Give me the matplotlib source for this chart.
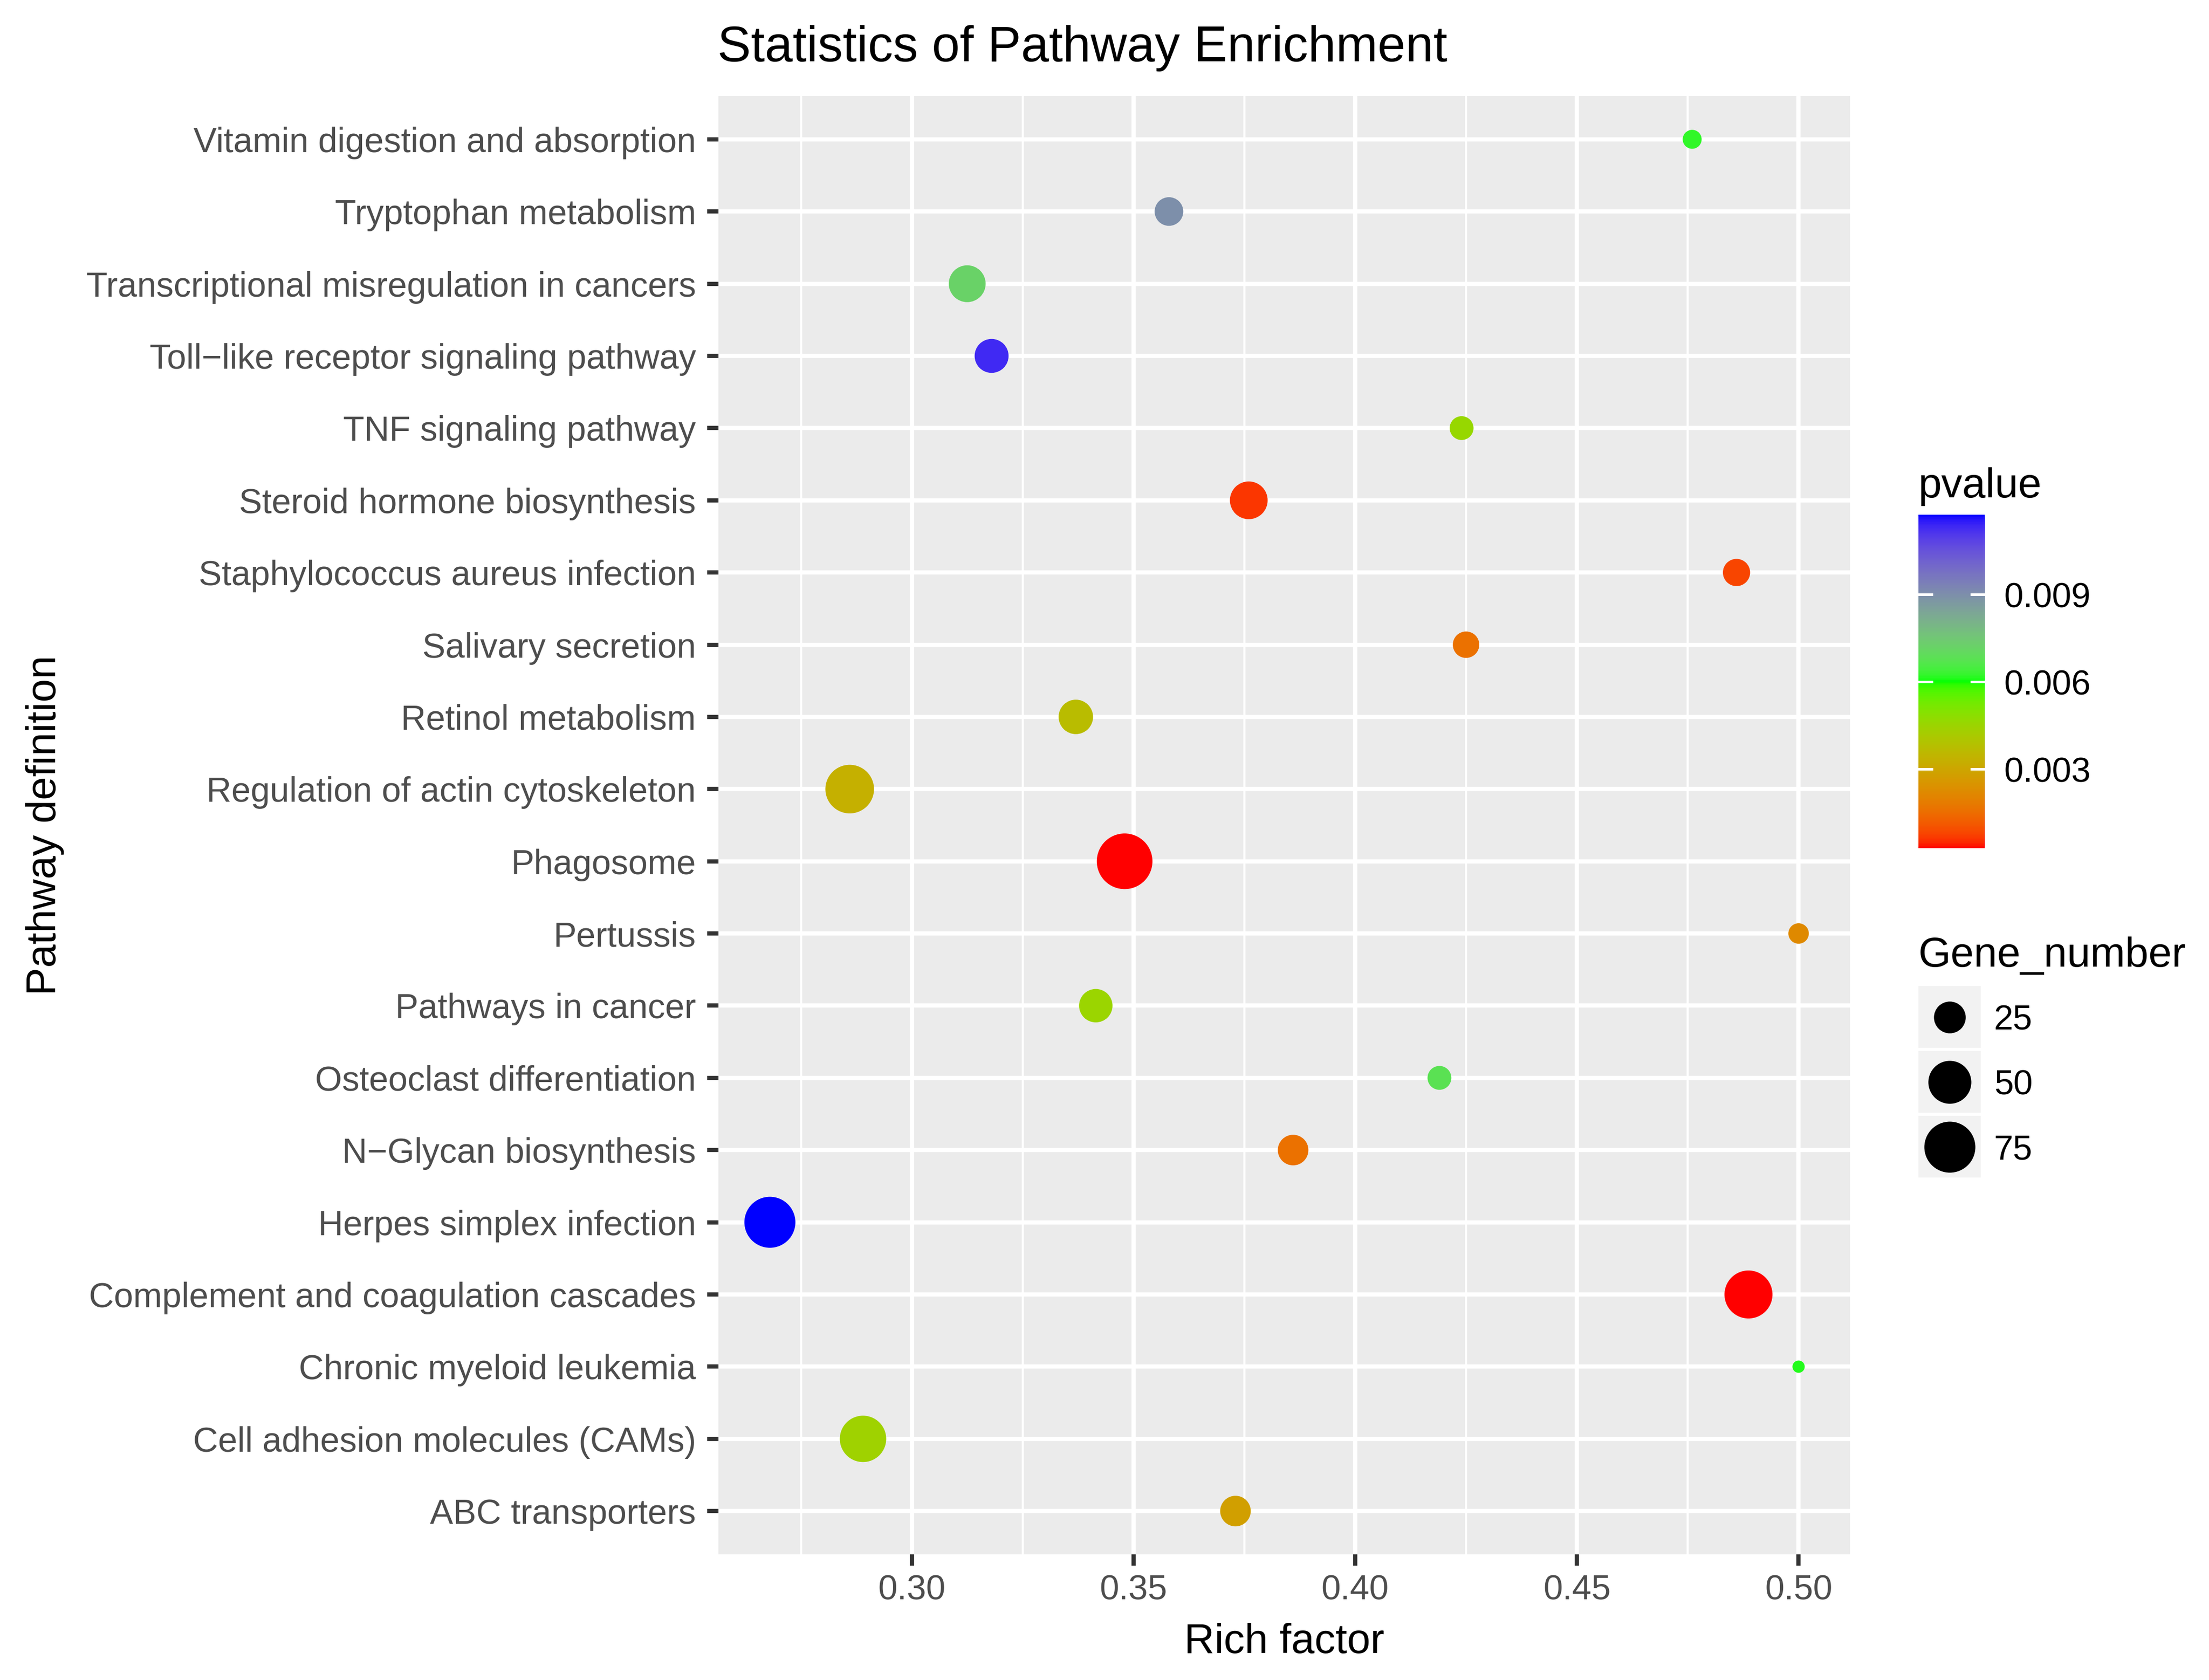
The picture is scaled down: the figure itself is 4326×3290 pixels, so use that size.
import numpy as np
import matplotlib
matplotlib.use("Agg")
import matplotlib.pyplot as plt
from matplotlib.colors import ListedColormap, Normalize
from matplotlib.cm import ScalarMappable
from matplotlib.patches import Rectangle

plt.rcParams['font.family'] = ['Liberation Sans', 'DejaVu Sans']

W, H, DPI = 4326, 3290, 300

# pathways listed top to bottom as in the picture
pathways = [
    "Vitamin digestion and absorption",
    "Tryptophan metabolism",
    "Transcriptional misregulation in cancers",
    "Toll\u2212like receptor signaling pathway",
    "TNF signaling pathway",
    "Steroid hormone biosynthesis",
    "Staphylococcus aureus infection",
    "Salivary secretion",
    "Retinol metabolism",
    "Regulation of actin cytoskeleton",
    "Phagosome",
    "Pertussis",
    "Pathways in cancer",
    "Osteoclast differentiation",
    "N\u2212Glycan biosynthesis",
    "Herpes simplex infection",
    "Complement and coagulation cascades",
    "Chronic myeloid leukemia",
    "Cell adhesion molecules (CAMs)",
    "ABC transporters",
]
rich_factor = [0.476, 0.358, 0.3125, 0.318, 0.424, 0.376, 0.486, 0.425, 0.337, 0.286,
               0.348, 0.500, 0.3415, 0.419, 0.386, 0.268, 0.4887, 0.500, 0.289, 0.373]
gene_number = [10, 20, 35, 29, 14, 37, 18, 17, 30, 67,
               92, 11, 28, 14, 23, 75, 65, 8, 60, 23]
pvalue = [0.0062, 0.0090, 0.0072, 0.0113, 0.0046, 0.0006, 0.0008, 0.0016, 0.0037, 0.0033,
          0.00028, 0.0022, 0.0045, 0.0068, 0.0016, 0.01174, 0.0003, 0.0061, 0.0044, 0.0028]

x_ticks = [0.30, 0.35, 0.40, 0.45, 0.50]
pv_ticks = [0.003, 0.006, 0.009]
size_breaks = [25, 50, 75]


# ---- colour scale: red -> green -> blue, interpolated in CIELAB like ggplot ----
def srgb_to_lab(rgb):
    rgb = np.asarray(rgb, float)
    lin = np.where(rgb <= 0.04045, rgb / 12.92, ((rgb + 0.055) / 1.055) ** 2.4)
    m = np.array([[0.4124, 0.3576, 0.1805],
                  [0.2126, 0.7152, 0.0722],
                  [0.0193, 0.1192, 0.9505]])
    xyz = m @ lin / np.array([0.95047, 1.0, 1.08883])
    f = np.where(xyz > 0.008856, np.cbrt(xyz), 7.787 * xyz + 16 / 116)
    return np.array([116 * f[1] - 16, 500 * (f[0] - f[1]), 200 * (f[1] - f[2])])


def lab_to_srgb(lab):
    L, a, b = lab
    fy = (L + 16) / 116
    fx = fy + a / 500
    fz = fy - b / 200
    f = np.array([fx, fy, fz])
    xyz = np.where(f ** 3 > 0.008856, f ** 3, (f - 16 / 116) / 7.787)
    xyz = xyz * np.array([0.95047, 1.0, 1.08883])
    m = np.array([[3.2406, -1.5372, -0.4986],
                  [-0.9689, 1.8758, 0.0415],
                  [0.0557, -0.2040, 1.0570]])
    lin = np.clip(m @ xyz, 0, 1)
    rgb = np.where(lin <= 0.0031308, 12.92 * lin, 1.055 * lin ** (1 / 2.4) - 0.055)
    return np.clip(rgb, 0, 1)


stops = [srgb_to_lab(c) for c in ([1, 0, 0], [0, 1, 0], [0, 0, 1])]
cols = []
for t in np.linspace(0, 1, 256):
    seg = min(int(t * 2), 1)
    u = t * 2 - seg
    cols.append(lab_to_srgb(stops[seg] * (1 - u) + stops[seg + 1] * u))
cmap = ListedColormap(cols)
norm = Normalize(vmin=min(pvalue), vmax=max(pvalue))

# ---- size scale (area scale, like scale_size) ----
gmin, gmax = min(gene_number), max(gene_number)


def dot_area(v):
    d_px = 24 + 85 * np.sqrt((np.asarray(v, float) - gmin) / (gmax - gmin))
    return (d_px * 72 / DPI) ** 2


fig = plt.figure(figsize=(W / DPI, H / DPI), dpi=DPI)
L, R, T, B = 1407, 3623, 188, 3044
ax = fig.add_axes([L / W, 1 - B / H, (R - L) / W, (B - T) / H])
ax.set_facecolor('#EBEBEB')
for s in ax.spines.values():
    s.set_visible(False)

ypos = np.arange(len(pathways), 0, -1)
xr = max(rich_factor) - min(rich_factor)
ax.set_xlim(min(rich_factor) - 0.05 * xr, max(rich_factor) + 0.05 * xr)
ax.set_ylim(0.4, len(pathways) + 0.6)

for xm in np.arange(0.275, 0.53, 0.05):
    ax.axvline(xm, color='white', lw=1.0, zorder=0)
for xv in x_ticks:
    ax.axvline(xv, color='white', lw=2.0, zorder=0)
for yv in ypos:
    ax.axhline(yv, color='white', lw=2.0, zorder=0)

ax.scatter(rich_factor, ypos, s=dot_area(gene_number), c=pvalue, cmap=cmap, norm=norm,
           linewidths=0, zorder=3)

ax.set_xticks(x_ticks)
ax.set_xticklabels([f"{v:.2f}" for v in x_ticks])
ax.set_yticks(ypos)
ax.set_yticklabels(pathways)
ax.tick_params(axis='both', length=5.3, width=2.0, color='#333333',
               labelcolor='#4D4D4D', labelsize=16.3)
ax.tick_params(axis='y', pad=5.3)
ax.tick_params(axis='x', pad=4.0)

fig.text(1405 / W, 1 - 120 / H, "Statistics of Pathway Enrichment", fontsize=23.6,
         ha='left', va='baseline', color='black')
fig.text((L + R) / 2 / W, 1 - 3237 / H, "Rich factor", fontsize=19.7,
         ha='center', va='baseline', color='black')
fig.text(88 / W, 1 - (T + B) / 2 / H, "Pathway definition", fontsize=19.7,
         rotation=90, ha='center', va='center', color='black')

# ---- colourbar legend ----
cb_l, cb_t, cb_w, cb_b = 3757, 1008, 130, 1661
cax = fig.add_axes([cb_l / W, 1 - cb_b / H, cb_w / W, (cb_b - cb_t) / H])
cb = fig.colorbar(ScalarMappable(norm=norm, cmap=cmap), cax=cax)
cb.outline.set_visible(False)
cb.set_ticks(pv_ticks)
cb.set_ticklabels([f"{v:.3f}" for v in pv_ticks])
cax.tick_params(length=0, labelsize=16.3, labelcolor='black', pad=9)
for v in pv_ticks:
    cax.plot([0, 0.2], [v, v], color='white', lw=1.2, transform=cax.get_yaxis_transform())
    cax.plot([0.8, 1], [v, v], color='white', lw=1.2, transform=cax.get_yaxis_transform())
fig.text(cb_l / W, 1 - 974 / H, "pvalue", fontsize=19.7, ha='left', va='baseline')

# ---- size legend ----
fig.text(cb_l / W, 1 - 1893 / H, "Gene_number", fontsize=19.7, ha='left', va='baseline')
key_top, key_h, key_gap, key_w = 1931, 121, 6, 122
lax = fig.add_axes([cb_l / W, 1 - (key_top + 3 * key_h + 2 * key_gap) / H,
                    key_w / W, (3 * key_h + 2 * key_gap) / H])
lax.set_xlim(0, key_w)
lax.set_ylim(key_top + 3 * key_h + 2 * key_gap, key_top)
lax.axis('off')
for i, v in enumerate(size_breaks):
    y0 = key_top + i * (key_h + key_gap)
    lax.add_patch(Rectangle((0, y0), key_w, key_h, facecolor='#F2F2F2', edgecolor='none'))
    lax.scatter([key_w / 2], [y0 + key_h / 2], s=dot_area(v), color='black', linewidths=0)
    fig.text(3905 / W, 1 - (y0 + key_h / 2) / H, str(v), fontsize=16.3,
             ha='left', va='center_baseline')

fig.savefig("out.png", dpi=DPI)
